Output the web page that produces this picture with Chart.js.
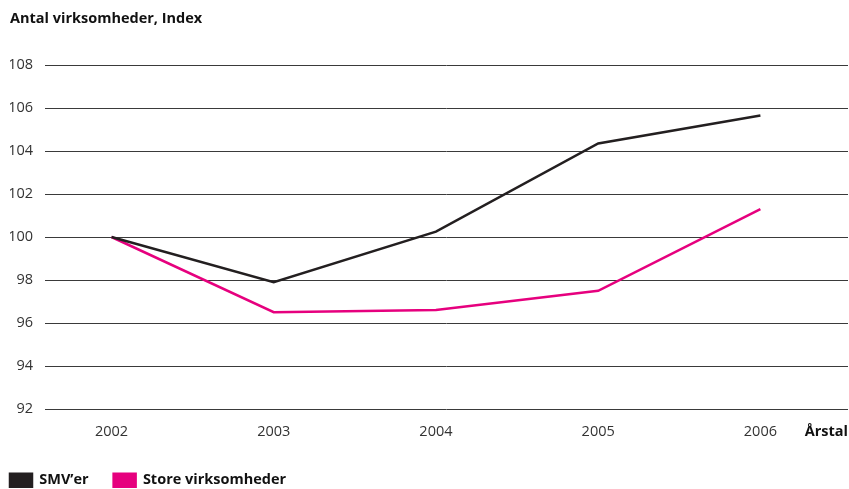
<!DOCTYPE html>
<html lang="da">
<head>
<meta charset="UTF-8">
<title>Antal virksomheder, Index</title>
<style>
  html, body { margin: 0; padding: 0; background: #fff; }
  #wrap { width: 849px; height: 489px; }
</style>
</head>
<body>
<div id="wrap"><canvas id="graf" width="849" height="489"></canvas></div>
<script src="https://cdn.jsdelivr.net/npm/chart.js"></script>
<script>
const aarstal = [2002, 2003, 2004, 2005, 2006]
const smv = [100, 97.9, 100.25, 104.35, 105.65]
const store = [100, 96.5, 96.6, 97.5, 101.3]
const yTicks = [92, 94, 96, 98, 100, 102, 104, 106, 108]

const FONT = "'Open Sans', 'Noto Sans', sans-serif"
const LEGEND_GAP = 25

// tekst til x-aksen ude til højre
const aarstalLabel = {
  id: 'aarstalLabel',
  afterDraw(chart) {
    const ctx = chart.ctx
    const x = chart.scales.x
    ctx.save()
    ctx.font = 'bold 14.5px ' + FONT
    ctx.fillStyle = '#111'
    ctx.textAlign = 'right'
    ctx.textBaseline = 'middle'
    ctx.fillText('Årstal', 848, x.top + 23)
    ctx.restore()
  }
}

// legenden skal starte helt ude til venstre trods den store afstand mellem punkterne
const legendeVenstre = {
  id: 'legendeVenstre',
  afterLayout(chart) {
    if (chart.legend) chart.legend.left -= LEGEND_GAP
  }
}

new Chart(document.getElementById('graf'), {
  type: 'line',
  data: {
    datasets: [
      {
        label: 'SMV’er',
        data: aarstal.map((a, i) => ({ x: a, y: smv[i] })),
        borderColor: '#231f20',
        backgroundColor: '#231f20',
        borderWidth: 2.5,
        pointRadius: 0,
        tension: 0
      },
      {
        label: 'Store virksomheder',
        data: aarstal.map((a, i) => ({ x: a, y: store[i] })),
        borderColor: '#e6007e',
        backgroundColor: '#e6007e',
        borderWidth: 2.5,
        pointRadius: 0,
        tension: 0
      }
    ]
  },
  options: {
    responsive: false,
    animation: false,
    layout: { padding: { left: 10, right: 1, top: 0, bottom: 1 } },
    plugins: {
      title: {
        display: true,
        text: 'Antal virksomheder, Index',
        align: 'start',
        color: '#111',
        font: { family: FONT, size: 14.5, weight: 'bold' },
        padding: { top: 10, bottom: 37.6 }
      },
      legend: {
        position: 'bottom',
        align: 'start',
        maxHeight: 40,
        labels: {
          color: '#111',
          font: { family: FONT, size: 14.5, weight: 'bold' },
          boxWidth: 22,
          boxHeight: 13,
          padding: LEGEND_GAP,
          useBorderRadius: false
        }
      },
      tooltip: { enabled: false }
    },
    scales: {
      x: {
        type: 'linear',
        min: 2001.59,
        max: 2006.54,
        afterFit: s => { s.height = 39 },
        ticks: {
          stepSize: 1,
          includeBounds: false,
          color: '#333',
          font: { family: FONT, size: 14.5 },
          padding: 6,
          maxRotation: 0,
          callback: v => Number.isInteger(v) ? String(v) : ''
        },
        grid: { display: false },
        border: { display: false }
      },
      y: {
        min: 92,
        max: 108,
        afterFit: s => { s.width = 35 },
        afterBuildTicks: s => { s.ticks = yTicks.map(v => ({ value: v })) },
        ticks: {
          color: '#333',
          font: { family: FONT, size: 14.5 },
          padding: 12
        },
        grid: { color: '#3a3a3a', lineWidth: 1, drawTicks: false },
        border: { display: false }
      }
    }
  },
  plugins: [aarstalLabel, legendeVenstre]
})
</script>
</body>
</html>
